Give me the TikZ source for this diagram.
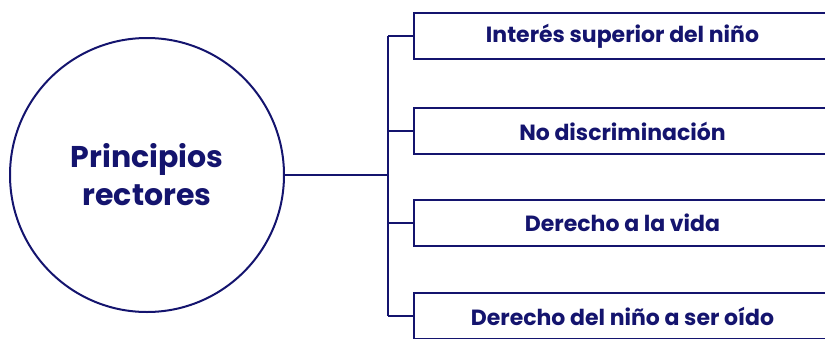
\documentclass[tikz,border=0pt]{standalone}
\usepackage{fontspec}
\setmainfont{Poppins}
\usepackage{xcolor}
\usetikzlibrary{positioning}
\definecolor{navy}{HTML}{14146E}

\begin{document}
\begin{tikzpicture}[x=1pt,y=-1pt,navy,line width=2pt,
                    main node/.style={circle,draw,text=navy,align=center,minimum size=274pt,inner sep=0pt,
                      font=\fontsize{30}{38}\selectfont\bfseries},
                    principle box/.style={rectangle,draw,text=navy,minimum width=417pt,minimum height=46pt,
                      font=\fontsize{22}{24}\selectfont\bfseries}]
 \useasboundingbox (0,0) rectangle (825,338);

 \node[main node] (Principios) at (147,175) {Principios\\rectores};

%Boxes on the right
 \foreach \name/\y/\txt in {1/36/Interés superior del niño,
                            2/131/No discriminación,
                            3/223/Derecho a la vida,
                            4/316/Derecho del niño a ser oído}
    \node[principle box,anchor=west] (Box\name) at (413,\y) {\txt};

%Connectors
 \coordinate (Trunk) at (388,175);
 \draw (Principios.east) -- (Principios.east -| Trunk);
 \draw (Box1.west -| Trunk) -- (Box4.west -| Trunk);
 \foreach \name in {1,...,4}
    \draw (Box\name.west -| Trunk) -- (Box\name.west);

\end{tikzpicture}
\end{document}
